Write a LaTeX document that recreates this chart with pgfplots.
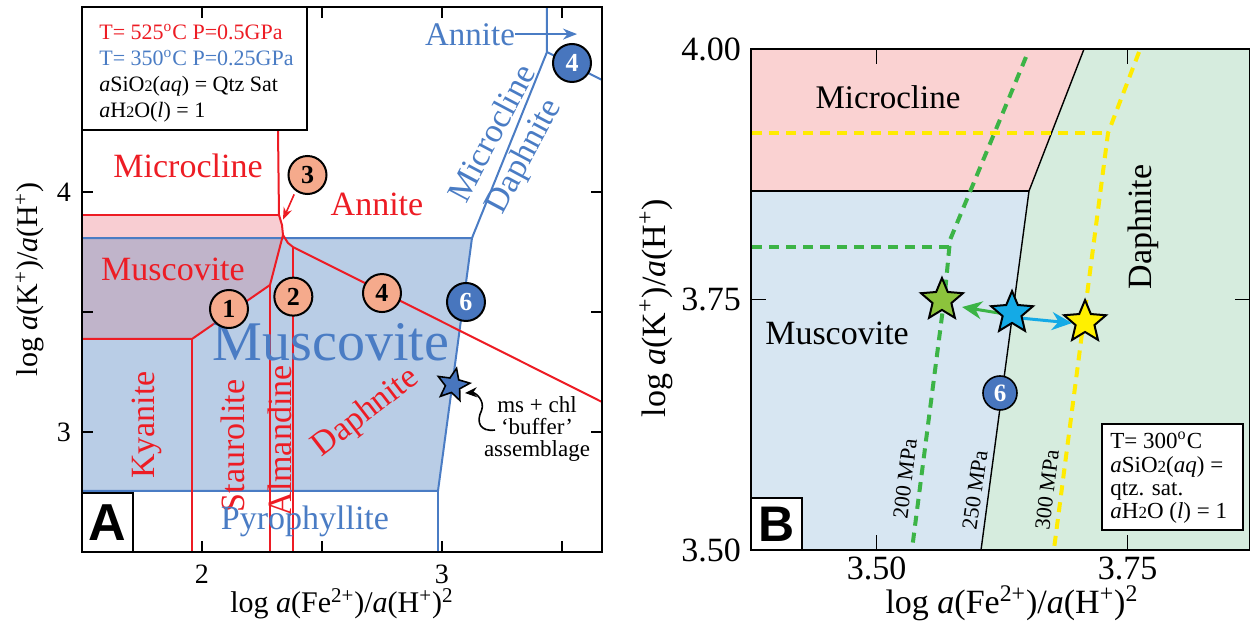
\documentclass[border=0pt]{standalone}
\usepackage{fontspec}
\setmainfont{Liberation Serif}
\newfontfamily\arialfont{Liberation Sans}
\usepackage{pgfplots}
\pgfplotsset{compat=1.18}
\usetikzlibrary{arrows.meta}

\definecolor{rline}{RGB}{237,28,36}
\definecolor{bline}{RGB}{74,124,196}
\definecolor{bfill}{RGB}{185,205,230}
\definecolor{pfill}{RGB}{248,205,210}
\definecolor{mfill}{RGB}{192,180,202}
\definecolor{salmon}{RGB}{245,170,140}
\definecolor{bcirc}{RGB}{72,118,190}
\definecolor{rpink}{RGB}{250,210,210}
\definecolor{rblue}{RGB}{215,230,242}
\definecolor{rgreen}{RGB}{214,236,222}
\definecolor{gdash}{RGB}{60,180,70}
\definecolor{ydash}{RGB}{255,235,0}
\definecolor{gstar}{RGB}{140,195,60}
\definecolor{cstar}{RGB}{20,170,230}
\definecolor{ystar}{RGB}{255,240,0}

\newcommand{\fs}[2]{\fontsize{#1}{#2}\selectfont}

\pgfdeclareplotmark{fstar}{%
 \pgfpathmoveto{\pgfpointpolar{90}{\pgfplotmarksize}}%
 \pgfpathlineto{\pgfpointpolar{126}{0.45\pgfplotmarksize}}%
 \pgfpathlineto{\pgfpointpolar{162}{\pgfplotmarksize}}%
 \pgfpathlineto{\pgfpointpolar{198}{0.45\pgfplotmarksize}}%
 \pgfpathlineto{\pgfpointpolar{234}{\pgfplotmarksize}}%
 \pgfpathlineto{\pgfpointpolar{270}{0.45\pgfplotmarksize}}%
 \pgfpathlineto{\pgfpointpolar{306}{\pgfplotmarksize}}%
 \pgfpathlineto{\pgfpointpolar{342}{0.45\pgfplotmarksize}}%
 \pgfpathlineto{\pgfpointpolar{18}{\pgfplotmarksize}}%
 \pgfpathlineto{\pgfpointpolar{54}{0.45\pgfplotmarksize}}%
 \pgfpathclose
 \pgfusepathqfillstroke}

\pgfplotsset{
  numcircle/.style={only marks, mark=*, mark size=#1,
    point meta=explicit symbolic,
    nodes near coords={\pgfplotspointmeta},
    every node near coord/.append style={anchor=center, inner sep=0pt}},
}

\begin{document}
\begin{tikzpicture}
\useasboundingbox (0pt,0pt) rectangle (625pt,314pt);

% ================= Panel A =================
\begin{axis}[
  at={(41pt,38pt)}, anchor=south west, scale only axis,
  width=260pt, height=272.5pt,
  xmin=1.5, xmax=3.6667, ymin=2.5, ymax=4.7708,
  axis on top, clip=false,
  axis line style={line width=1pt},
  xtick={2,2.5,3,3.5}, xticklabels={2,,3,},
  ytick={3,3.5,4}, yticklabels={3,,4},
  tick align=inside, tick pos=both,
  major tick length=5.5pt, tick style={black, line width=0.8pt},
  tick label style={font=\fs{14}{14}},
  xticklabel style={yshift=-3pt}, yticklabel style={xshift=-2pt},
  xlabel={log \textit{a}(Fe\textsuperscript{2+})/\textit{a}(H\textsuperscript{+})\textsuperscript{2}},
  ylabel={log \textit{a}(K\textsuperscript{+})/\textit{a}(H\textsuperscript{+})},
  label style={font=\fs{15}{15}},
  xlabel style={at={(axis description cs:0.5,-0.095)}, anchor=center},
  ylabel style={at={(axis description cs:-0.1,0.5)}, anchor=center},
]
% fills
\addplot[draw=none, fill=pfill] coordinates {(1.5,3.9042)(2.3208,3.9042)(2.3333,3.8625)(2.3375,3.8208)(2.2833,3.6125)(1.9583,3.3875)(1.5,3.3875)} -- cycle;
\addplot[draw=none, fill=bfill] coordinates {(1.5,3.8083)(3.125,3.8083)(2.9833,2.7542)(1.5,2.7542)} -- cycle;
\addplot[draw=none, fill=mfill] coordinates {(1.5,3.8083)(2.3342,3.8083)(2.2833,3.6125)(1.9583,3.3875)(1.5,3.3875)} -- cycle;
% blue lines
\addplot[bline, line width=1pt] coordinates {(1.5,3.8083)(3.125,3.8083)(2.9833,2.7542)(1.5,2.7542)};
\addplot[bline, line width=1pt] coordinates {(2.9833,2.7542)(2.9833,2.5)};
\addplot[bline, line width=1pt] coordinates {(3.125,3.8083)(3.4375,4.5833)(3.4375,4.7708)};
\addplot[bline, line width=1pt] coordinates {(3.4375,4.5833)(3.6667,4.4667)};
% red lines
\addplot[rline, line width=1pt] coordinates {(2.3167,4.2583)(2.3208,3.9042)(2.3333,3.8625)(2.3375,3.8208)(2.2833,3.6125)(1.9583,3.3875)(1.5,3.3875)};
\addplot[rline, line width=1pt] coordinates {(1.5,3.9042)(2.3208,3.9042)};
\addplot[rline, line width=1pt] coordinates {(2.2833,3.6125)(2.2833,2.5)};
\addplot[rline, line width=1pt] coordinates {(1.9583,3.3875)(1.9583,2.5)};
\addplot[rline, line width=1pt] coordinates {(2.3375,3.8208)(2.3583,3.7875)(2.3792,3.7708)(3.6667,3.125)};
\addplot[rline, line width=1pt] coordinates {(2.3792,3.7708)(2.3792,2.5)};

% red labels
\node[text=rline, font=\fs{17}{17}] at (axis cs:1.9417,4.1083) {Microcline};
\node[text=rline, font=\fs{17}{17}] at (axis cs:2.7292,3.95) {Annite};
\node[text=rline, font=\fs{17}{17}] at (axis cs:1.8792,3.679) {Muscovite};
\node[text=rline, font=\fs{17}{17}, rotate=90] at (axis cs:1.7708,3.029) {Kyanite};
\node[text=rline, font=\fs{17}{17}, rotate=90] at (axis cs:2.129,2.942) {Staurolite};
\node[text=rline, font=\fs{17}{17}, rotate=90] at (axis cs:2.325,2.9625) {Almandine};
\node[text=rline, font=\fs{17}{17}, rotate=37.6, inner sep=0pt] at (axis cs:2.6833,3.079) {Daphnite};
% blue labels
\node[text=bline, font=\fs{28}{28}, inner sep=0pt] at (axis cs:2.5375,3.375) {Muscovite};
\node[text=bline, font=\fs{17}{17}] at (axis cs:2.429,2.629) {Pyrophyllite};
\node[text=bline, font=\fs{16.5}{16.5}] at (axis cs:3.1167,4.654) {Annite};
\node[text=bline, font=\fs{17}{17}, rotate=62] at (axis cs:3.2042,4.246) {Microcline};
\node[text=bline, font=\fs{17}{17}, rotate=62] at (axis cs:3.3458,4.146) {Daphnite};
\draw[bline, line width=0.8pt, -{Stealth[length=7pt,width=5.5pt]}] (axis cs:3.304,4.658) -- (axis cs:3.5625,4.658);

% arrow to triple point
\draw[rline, line width=0.8pt, -{Stealth[length=6pt,width=4.5pt]}] (axis cs:2.384,3.99) -- (axis cs:2.3375,3.885);

% circles with numbers
\addplot[numcircle=9.5pt, mark options={fill=salmon, draw=black, line width=1pt},
  every node near coord/.append style={font=\bfseries\fs{13}{13}, text=black}]
  table[meta=lab] {
x y lab
2.1125 3.5125 1
2.3806 3.564 2
2.4396 4.0708 3
2.75 3.579 4
};
\addplot[numcircle=9.5pt, mark options={fill=bcirc, draw=black, line width=1pt},
  every node near coord/.append style={font=\bfseries\fs{13}{13}, text=white}]
  table[meta=lab] {
x y lab
3.1 3.5417 6
3.5417 4.5375 4
};

% buffer star
\addplot[only marks, mark=fstar, mark size=8.5pt, mark options={fill=bcirc, draw=black, line width=0.8pt, rotate=-12}] coordinates {(3.046,3.196)};
\draw[black, line width=0.8pt, -{Stealth[length=6pt,width=5pt]}] (axis cs:3.2208,3.0083) .. controls (axis cs:3.16,3.0) and (axis cs:3.14,3.04) .. (axis cs:3.165,3.09) .. controls (axis cs:3.18,3.13) and (axis cs:3.14,3.165) .. (axis cs:3.0958,3.1625);
\node[align=center, font=\fs{11.5}{11}] at (axis cs:3.396,3.0125) {ms + chl\\`buffer'\\assemblage};

% info box
\draw[fill=white, line width=0.8pt] (axis cs:1.5,4.2583) rectangle (axis cs:2.4375,4.7708);
\node[anchor=north west, align=left, inner sep=0pt, font=\fs{11}{13}] at (axis cs:1.5708,4.70) {%
{\color{rline}T= 525\textsuperscript{o}C P=0.5GPa}\\
{\color{bline}T= 350\textsuperscript{o}C P=0.25GPa}\\
\textit{a}SiO{\fs{8}{8}2}(\textit{aq}) = Qtz Sat\\
\textit{a}H{\fs{8}{8}2}O(\textit{l}) = 1};

% A box
\draw[fill=white, line width=0.8pt] (axis cs:1.5,2.5) rectangle (axis cs:1.7125,2.7458);
\node[font=\arialfont\bfseries\fs{26}{26}] at (axis cs:1.60625,2.6229) {A};
\end{axis}

% ================= Panel B =================
\begin{axis}[
  at={(375.5pt,39pt)}, anchor=south west, scale only axis,
  width=249.5pt, height=250.5pt,
  xmin=3.375, xmax=3.872, ymin=3.5, ymax=4.0,
  axis on top, clip=false,
  axis line style={line width=1pt},
  xtick={3.5,3.75}, xticklabels={3.50,3.75},
  ytick={3.5,3.75,4}, yticklabels={3.50,3.75,4.00},
  tick align=inside, tick pos=both,
  major tick length=7.5pt, tick style={black, line width=0.8pt},
  tick label style={font=\fs{17}{17}},
  yticklabel style={xshift=-1.5pt},
  xlabel={log \textit{a}(Fe\textsuperscript{2+})/\textit{a}(H\textsuperscript{+})\textsuperscript{2}},
  ylabel={log \textit{a}(K\textsuperscript{+})/\textit{a}(H\textsuperscript{+})},
  label style={font=\fs{17}{17}},
  xlabel style={at={(axis description cs:0.523,-0.106)}, anchor=center},
  ylabel style={at={(axis description cs:-0.19,0.483)}, anchor=center},
]
% fills
\addplot[draw=none, fill=rpink] coordinates {(3.375,4)(3.7067,4)(3.6519,3.8583)(3.375,3.8583)} -- cycle;
\addplot[draw=none, fill=rblue] coordinates {(3.375,3.8583)(3.6519,3.8583)(3.6041,3.5)(3.375,3.5)} -- cycle;
\addplot[draw=none, fill=rgreen] coordinates {(3.7067,4)(3.872,4)(3.872,3.5)(3.6041,3.5)(3.6519,3.8583)} -- cycle;
% boundaries
\addplot[black, line width=0.7pt] coordinates {(3.7067,4)(3.6519,3.8583)(3.6041,3.5)};
\addplot[black, line width=0.7pt] coordinates {(3.375,3.8583)(3.6519,3.8583)};
% dashed isobars
\addplot[gdash, line width=2pt, dash pattern=on 5pt off 3.5pt] coordinates {(3.6489,3.992)(3.5732,3.8094)(3.5682,3.7565)(3.5354,3.501)};
\addplot[gdash, line width=2pt, dash pattern=on 5pt off 3.5pt] coordinates {(3.376,3.8024)(3.572,3.8024)};
\addplot[ydash, line width=2pt, dash pattern=on 5pt off 3.5pt] coordinates {(3.7615,3.997)(3.7306,3.9162)(3.6768,3.501)};
\addplot[ydash, line width=2pt, dash pattern=on 5pt off 3.5pt] coordinates {(3.376,3.9162)(3.7306,3.9162)};

% labels
\node[font=\fs{16.5}{16.5}] at (axis cs:3.5115,3.952) {Microcline};
\node[font=\fs{17}{17}] at (axis cs:3.4607,3.7166) {Muscovite};
\node[font=\fs{17}{17}, rotate=90] at (axis cs:3.7654,3.8224) {Daphnite};
\node[font=\fs{11}{11}, rotate=83] at (axis cs:3.5284,3.5709) {200 MPa};
\node[font=\fs{11}{11}, rotate=82] at (axis cs:3.598,3.5599) {250 MPa};
\node[font=\fs{11}{11}, rotate=83] at (axis cs:3.6698,3.5599) {300 MPa};

% circle 6
\addplot[numcircle=8.5pt, mark options={fill=bcirc, draw=black, line width=0.8pt},
  every node near coord/.append style={font=\bfseries\fs{12.5}{12.5}, text=white}]
  table[meta=lab] {
x y lab
3.623 3.6567 6
};

% stars and arrows
\addplot[only marks, mark=fstar, mark size=11pt, mark options={fill=gstar, draw=black, line width=1pt}] coordinates {(3.5652,3.7495)};
\addplot[only marks, mark=fstar, mark size=11pt, mark options={fill=ystar, draw=black, line width=1pt}] coordinates {(3.7077,3.7275)};
\draw[gdash, line width=1.5pt, -{Stealth[length=10pt,width=9pt]}] (axis cs:3.628,3.7355) -- (axis cs:3.5852,3.7425);
\draw[cstar, line width=1.5pt, -{Stealth[length=10pt,width=9pt]}] (axis cs:3.643,3.7315) -- (axis cs:3.6947,3.7265);
\addplot[only marks, mark=fstar, mark size=11pt, mark options={fill=cstar, draw=black, line width=1pt}] coordinates {(3.635,3.7365)};

% info box
\draw[fill=white, line width=0.6pt] (axis cs:3.7246,3.52) rectangle (axis cs:3.865,3.6257);
\node[anchor=north west, align=left, inner sep=0pt, font=\fs{11.5}{11.7}] at (axis cs:3.7326,3.6178) {%
T= 300\textsuperscript{o}C\\
\textit{a}SiO{\fs{8.5}{8.5}2}(\textit{aq}) =\\
qtz. sat.\\
\textit{a}H{\fs{8.5}{8.5}2}O (\textit{l}) = 1};

% B box
\draw[fill=white, line width=0.8pt] (axis cs:3.375,3.5) rectangle (axis cs:3.4258,3.5519);
\node[font=\arialfont\bfseries\fs{25}{25}] at (axis cs:3.4004,3.526) {B};
\end{axis}
\end{tikzpicture}
\end{document}
